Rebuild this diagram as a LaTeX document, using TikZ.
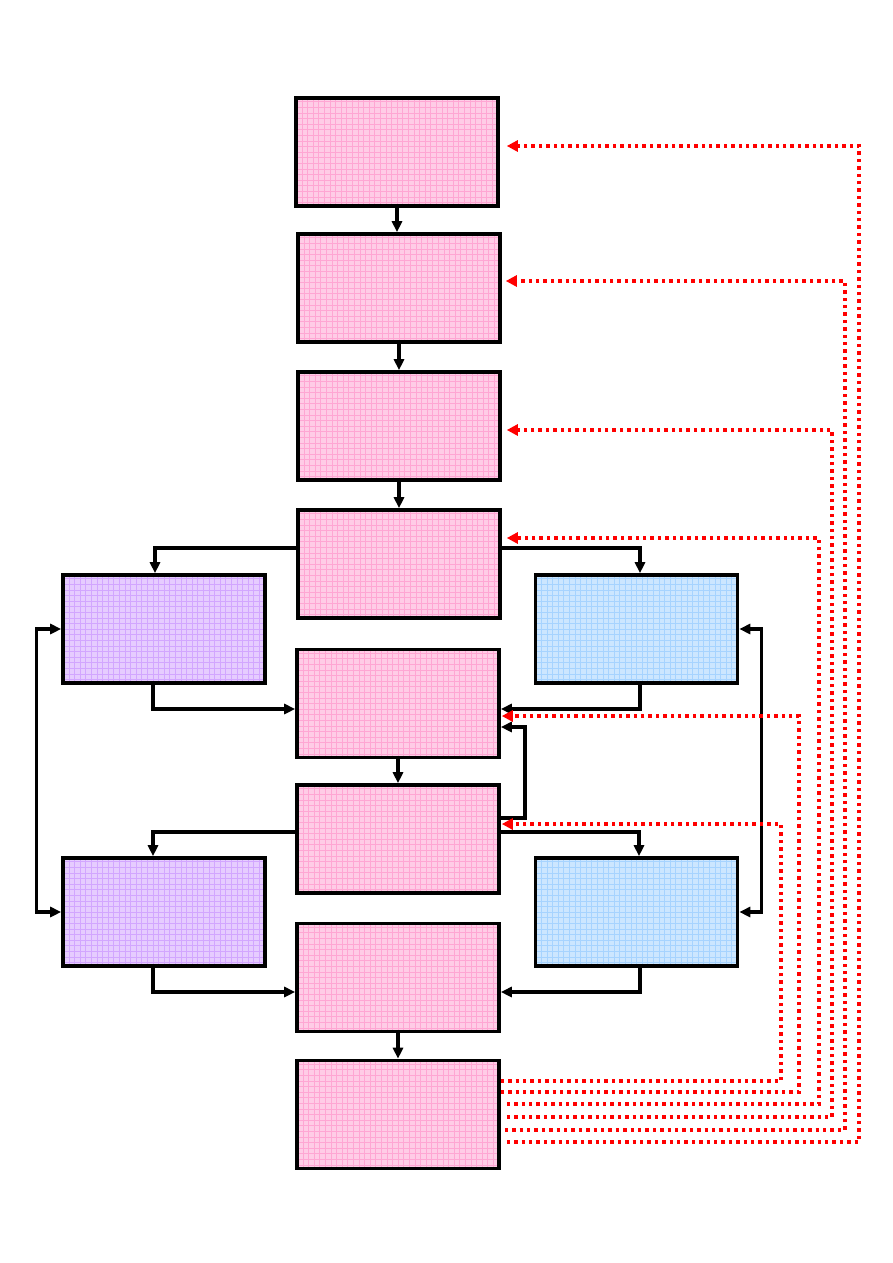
\documentclass[tikz,border=0pt]{standalone}
\usetikzlibrary{arrows.meta,calc}
\definecolor{pinkbg}{HTML}{FFCCE6}
\definecolor{pinkln}{HTML}{FFA6D3}
\definecolor{purpbg}{HTML}{E6CCFF}
\definecolor{purpln}{HTML}{D2A6FF}
\definecolor{bluebg}{HTML}{CCE6FF}
\definecolor{blueln}{HTML}{A6D3FF}
\tikzset{
  gbox/.style n args={2}{draw=black, line width=3.6pt, fill=#1, minimum width=202pt, minimum height=108pt, inner sep=0pt,
    path picture={\draw[#2, line width=0.55pt, step=5.6pt] (path picture bounding box.south west) grid (path picture bounding box.north east);}},
  pinkbox/.style={gbox={pinkbg}{pinkln}},
  purpbox/.style={gbox={purpbg}{purpln}},
  bluebox/.style={gbox={bluebg}{blueln}},
  tip/.style={},
  conn/.style={line width=3.4pt, -{Triangle[length=11pt,width=10pt]}},
  fb/.style={red, line width=3.4pt, dash pattern=on 3.4pt off 4pt, -{Triangle[length=11pt,width=11pt]}},
}
\begin{document}
\begin{tikzpicture}[x=1pt,y=-1pt]
\useasboundingbox (0,0) rectangle (893,1263);
\node[pinkbox] (B1) at (397,152) {};
\node[pinkbox] (B2) at (399,288) {};
\node[pinkbox] (B3) at (399,426) {};
\node[pinkbox] (B4) at (399,564) {};
\node[pinkbox] (B5) at (398,703.5) {};
\node[pinkbox] (B6) at (398,839) {};
\node[pinkbox] (B7) at (398,977.5) {};
\node[pinkbox] (B8) at (398,1114.5) {};
\node[purpbox] (P1) at (164,629) {};
\node[purpbox] (P2) at (164,912) {};
\node[bluebox] (L1) at (636.5,629) {};
\node[bluebox] (L2) at (636.5,912) {};
% main chain
\draw[conn] (B1.south) -- (B1.south |- B2.north);
\draw[conn] (B2.south) -- (B2.south |- B3.north);
\draw[conn] (B3.south) -- (B3.south |- B4.north);
\draw[conn] (B5.south) -- (B5.south |- B6.north);
\draw[conn] (B7.south) -- (B7.south |- B8.north);
% branches from B4
\draw[conn] (B4.west |- 0,548) -| ([xshift=-9pt]P1.north);
\draw[conn] (B4.east |- 0,548) -| ([xshift=3.5pt]L1.north);
\draw[conn] ([xshift=-11pt]P1.south) |- (B5.west |- 0,709);
\draw[conn] ([xshift=3.5pt]L1.south) |- (B5.east |- 0,709);
% loop B6 -> B5
\draw[conn] (B6.east |- 0,818) -- (525,818) -- (525,727) -- (B5.east |- 0,727);
% branches from B6
\draw[conn] (B6.west |- 0,832) -| ([xshift=-11pt]P2.north);
\draw[conn] (B6.east |- 0,832) -| ([xshift=2.5pt]L2.north);
\draw[conn] ([xshift=-11pt]P2.south) |- (B7.west |- 0,992);
\draw[conn] ([xshift=3.5pt]L2.south) |- (B7.east |- 0,992);
% side loops
\draw[conn, {Triangle[length=11pt,width=10pt]}-{Triangle[length=11pt,width=10pt]}] (P1.west) -- ++(-25,0) |- (P2.west);
\draw[conn, {Triangle[length=11pt,width=10pt]}-{Triangle[length=11pt,width=10pt]}] (L1.east) -- ++(22,0) |- (L2.east);
% feedback dotted
\draw[fb] (B8.east |- 0,1081) -| (781,824) -- ([xshift=1pt]B6.east |- 0,824);
\draw[fb] (B8.east |- 0,1092) -| (799,716) -- ([xshift=1pt]B5.east |- 0,716);
\draw[fb] ([xshift=6pt]B8.east |- 0,1104) -| (819,538) -- ([xshift=5pt]B4.east |- 0,538);
\draw[fb] ([xshift=6pt]B8.east |- 0,1117) -| (832,430) -- ([xshift=5pt]B3.east |- 0,430);
\draw[fb] ([xshift=4pt]B8.east |- 0,1130) -| (845,281) -- ([xshift=4pt]B2.east |- 0,281);
\draw[fb] ([xshift=6pt]B8.east |- 0,1142) -| (859,146) -- ([xshift=7pt]B1.east |- 0,146);
\end{tikzpicture}
\end{document}
